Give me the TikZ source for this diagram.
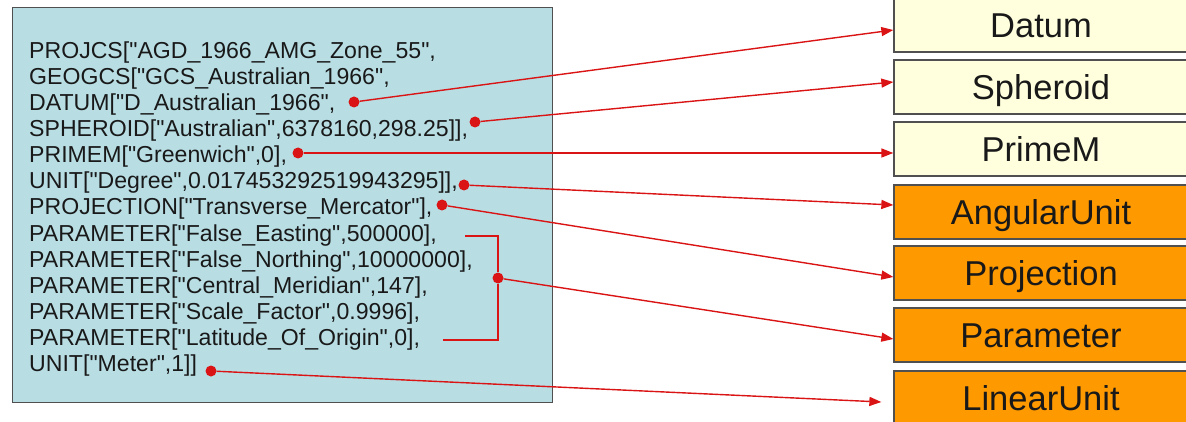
\documentclass[tikz,border=0pt]{standalone}
\usepackage{fontspec}
\setmainfont{Liberation Sans}[Ligatures=TeXOff]
\usetikzlibrary{arrows.meta}

\definecolor{panelblue}{RGB}{184,222,228}
\definecolor{paleyellow}{RGB}{255,255,222}
\definecolor{boxorange}{RGB}{255,153,0}
\definecolor{wirered}{RGB}{218,20,20}
\definecolor{edgegray}{RGB}{80,80,80}

\begin{document}
\begin{tikzpicture}
[x=1pt,y=-1pt,
 wkt/.style={anchor=west,inner sep=0pt,text height=16.6pt,text depth=0pt,
   font=\fontsize{23.1}{26}\selectfont,text=black!90},
 cls/.style={draw=edgegray,line width=1.3pt,minimum width=294pt,minimum height=54pt,
   inner sep=0pt,text height=24.5pt,text depth=0pt,font=\fontsize{34.5}{40}\selectfont,text=black!90},
 dot/.style={circle,fill=wirered,minimum size=11pt,inner sep=0pt},
 wire/.style={draw=wirered,line width=1.4pt}]
\useasboundingbox (0,0) rectangle (1186,422);
\clip (0,0) rectangle (1186,422);

\node[draw=edgegray,line width=1.3pt,fill=panelblue,anchor=north west,
  minimum width=540pt,minimum height=395pt] (panel) at (12,7) {};

\node[wkt] (t1) at (29,50) {PROJCS["AGD\_1966\_AMG\_Zone\_55",};
\node[wkt] (t2) at (29,76.1) {GEOGCS["GCS\_Australian\_1966",};
\node[wkt] (t3) at (29,102.2) {DATUM["D\_Australian\_1966",};
\node[wkt] (t4) at (29,128.3) {SPHEROID["Australian",6378160,298.25]],};
\node[wkt] (t5) at (29,154.4) {PRIMEM["Greenwich",0],};
\node[wkt] (t6) at (29,180.5) {UNIT["Degree",0.017453292519943295]],};
\node[wkt] (t7) at (29,206.6) {PROJECTION["Transverse\_Mercator"],};
\node[wkt] (t8) at (29,232.7) {PARAMETER["False\_Easting",500000],};
\node[wkt] (t9) at (29,258.8) {PARAMETER["False\_Northing",10000000],};
\node[wkt] (t10) at (29,284.9) {PARAMETER["Central\_Meridian",147],};
\node[wkt] (t11) at (29,311) {PARAMETER["Scale\_Factor",0.9996],};
\node[wkt] (t12) at (29,337.1) {PARAMETER["Latitude\_Of\_Origin",0],};
\node[wkt] (t13) at (29,363.2) {UNIT["Meter",1]]};

\node[cls,fill=paleyellow] (c1) at (1041,25) {Datum};
\node[cls,fill=paleyellow] (c2) at (1041,87) {Spheroid};
\node[cls,fill=paleyellow] (c3) at (1041,149) {PrimeM};
\node[cls,fill=boxorange] (c4) at (1041,212) {AngularUnit};
\node[cls,fill=boxorange] (c5) at (1041,273) {Projection};
\node[cls,fill=boxorange] (c6) at (1041,335) {Parameter};
\node[cls,fill=boxorange] (c7) at (1041,398) {LinearUnit};

\node[dot] (p1) at (354,102) {};
\node[dot] (p2) at (475,122) {};
\node[dot] (p3) at (298,153) {};
\node[dot] (p4) at (464,185) {};
\node[dot] (p5) at (442,205) {};
\node[dot] (p6) at (498,278) {};
\node[dot] (p7) at (211,371) {};

% bracket over the parameter lines
\coordinate (b1) at (465,236);
\coordinate (b2) at (443,340);
\draw[wire] (b1) -| (p6) |- (b2);

\foreach \from/\to/\dx/\dy in {p1/c1/0/-5,p2/c2/0/5,p3/c3/0/-4,p4/c4/0/7,p5/c5/0/-4,p6/c6/0/-4,p7/c7/-12/-4}
\draw[wire,-{Triangle[length=12pt,width=9pt]}] (\from) -- ([xshift=\dx pt,yshift=\dy pt]\to.west);
\end{tikzpicture}
\end{document}
